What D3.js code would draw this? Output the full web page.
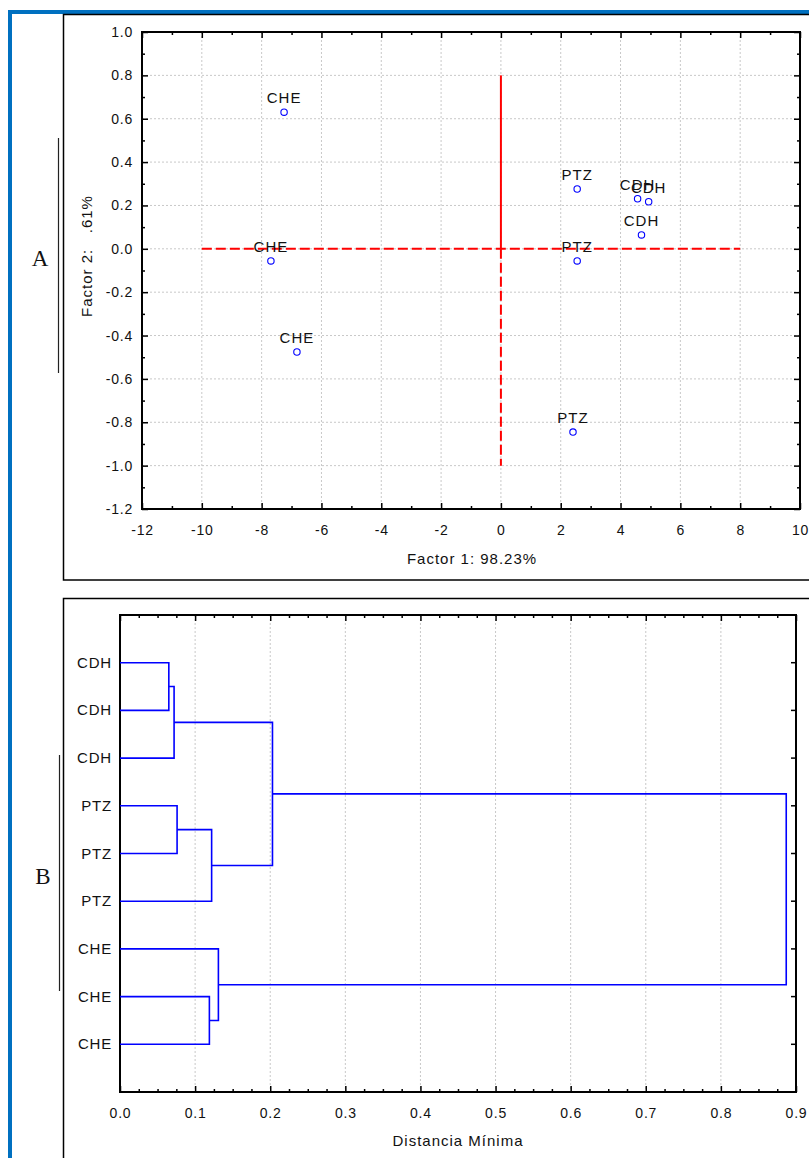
<!DOCTYPE html>
<html>
<head>
<meta charset="utf-8">
<script src="https://cdn.jsdelivr.net/npm/d3@7"></script>
<style>
  body { margin: 0; background: #fff; }
  svg text { font-family: "Liberation Sans", Arial, sans-serif; fill: #111; }
</style>
</head>
<body>
<div id="chart"></div>
<script>
// PCA scores (panel A)
var pcaLabels = ["CHE", "CHE", "CHE", "PTZ", "PTZ", "PTZ", "CDH", "CDH", "CDH"];
var factor1 = [-7.25, -7.69, -6.82, 2.55, 2.55, 2.41, 4.57, 4.94, 4.70];
var factor2 = [0.63, -0.056, -0.476, 0.276, -0.056, -0.845, 0.231, 0.217, 0.064];
var xTicksA = [-12, -10, -8, -6, -4, -2, 0, 2, 4, 6, 8, 10];
var yTicksA = [-1.2, -1.0, -0.8, -0.6, -0.4, -0.2, 0.0, 0.2, 0.4, 0.6, 0.8, 1.0];

// dendrogram (panel B): leaves top to bottom, then merges [childA, childB, distance]
var leafLabels = ["CDH", "CDH", "CDH", "PTZ", "PTZ", "PTZ", "CHE", "CHE", "CHE"];
var merges = [
    [0, 1, 0.065],
    [9, 2, 0.072],
    [3, 4, 0.076],
    [11, 5, 0.122],
    [10, 12, 0.203],
    [7, 8, 0.119],
    [6, 14, 0.131],
    [13, 15, 0.887]
];
var xTicksB = [0.0, 0.1, 0.2, 0.3, 0.4, 0.5, 0.6, 0.7, 0.8, 0.9];

// plain hyphen minus, like the original software
var locale = d3.formatLocale({ decimal: ".", thousands: ",", grouping: [3], currency: ["", ""], minus: "-" });

var svg = d3.select('#chart').append('svg').attr("width", 809).attr("height", 1158);

// blue page border and panel frames
svg.append("rect").attr("x", 8).attr("y", 10).attr("width", 4).attr("height", 1148).style("fill", "#0070C0");
svg.append("rect").attr("x", 8).attr("y", 10).attr("width", 801).attr("height", 4).style("fill", "#0070C0");
svg.append("rect").attr("x", 63.5).attr("y", 14.5).attr("width", 760).attr("height", 565.5)
    .style("fill", "none").style("stroke", "#000").style("stroke-width", 1.5);
svg.append("rect").attr("x", 63.5).attr("y", 598.5).attr("width", 760).attr("height", 600)
    .style("fill", "none").style("stroke", "#000").style("stroke-width", 1.5);

// side labels A / B
svg.append("line").attr("x1", 58.5).attr("x2", 58.5).attr("y1", 138).attr("y2", 373).style("stroke", "#222").style("stroke-width", 1.2);
svg.append("text").attr("x", 40).attr("y", 266).attr("text-anchor", "middle")
    .style("font-family", "'Liberation Serif', 'Times New Roman', serif").style("font-size", "23px").text("A");
svg.append("line").attr("x1", 59.5).attr("x2", 59.5).attr("y1", 755).attr("y2", 991).style("stroke", "#222").style("stroke-width", 1.2);
svg.append("text").attr("x", 43).attr("y", 884).attr("text-anchor", "middle")
    .style("font-family", "'Liberation Serif', 'Times New Roman', serif").style("font-size", "23px").text("B");

// ---------- panel A: scatter ----------
var ax = d3.scaleLinear().domain([-12, 10]).range([142, 800]);
var ay = d3.scaleLinear().domain([-1.2, 1.0]).range([509, 32]);

var gA = svg.append("g");

// grid
gA.selectAll(".gx").data(xTicksA.slice(1, -1)).enter().append("line")
    .attr("x1", function (d) { return ax(d); }).attr("x2", function (d) { return ax(d); })
    .attr("y1", ay(1.0)).attr("y2", ay(-1.2))
    .style("stroke", "#c8c8c8").style("stroke-dasharray", "2,2");
gA.selectAll(".gy").data(yTicksA.slice(1, -1)).enter().append("line")
    .attr("x1", ax(-12)).attr("x2", ax(10))
    .attr("y1", function (d) { return ay(d); }).attr("y2", function (d) { return ay(d); })
    .style("stroke", "#c8c8c8").style("stroke-dasharray", "2,2");

// axes with inward ticks
function inwardAxes(g, xs, ys, xMajor, xMinor, yMajor, yMinor, xFmt, yFmt) {
    var x0 = xs.range()[0], x1 = xs.range()[1], y0 = ys.range()[0], y1 = ys.range()[1];
    g.append("g").attr("transform", "translate(0," + y0 + ")")
        .call(d3.axisBottom(xs).tickValues(xMinor).tickSize(-3).tickFormat(""));
    g.append("g").attr("transform", "translate(0," + y0 + ")")
        .call(d3.axisBottom(xs).tickValues(xMajor).tickSizeInner(-6).tickSizeOuter(0).tickPadding(16).tickFormat(xFmt));
    g.append("g").attr("transform", "translate(0," + y1 + ")")
        .call(d3.axisTop(xs).tickValues(xMinor).tickSize(-3).tickFormat(""));
    g.append("g").attr("transform", "translate(0," + y1 + ")")
        .call(d3.axisTop(xs).tickValues(xMajor).tickSize(-6).tickFormat(""));
    if (yMajor) {
        g.append("g").attr("transform", "translate(" + x0 + ",0)")
            .call(d3.axisLeft(ys).tickValues(yMinor).tickSize(-3).tickFormat(""));
        g.append("g").attr("transform", "translate(" + x0 + ",0)")
            .call(d3.axisLeft(ys).tickValues(yMajor).tickSizeInner(-6).tickSizeOuter(0).tickPadding(9).tickFormat(yFmt));
    }
    g.selectAll(".domain").remove();
    g.selectAll(".tick line").style("stroke", "#000").style("stroke-width", 1.5);
    g.selectAll(".tick text").style("font-size", "14px").style("fill", "#111")
        .style("letter-spacing", "0.8px")
        .style("font-family", "'Liberation Sans', Arial, sans-serif");
    g.append("rect").attr("x", x0).attr("y", y1).attr("width", x1 - x0).attr("height", y0 - y1)
        .style("fill", "none").style("stroke", "#000").style("stroke-width", 2);
}

var xMinorA = d3.range(-12, 10.01, 1).filter(function (v) { return v % 2 !== 0; });
var yMinorA = d3.range(-11, 10, 2).map(function (v) { return v / 10; });
inwardAxes(gA, ax, ay, xTicksA, xMinorA, yTicksA, yMinorA, locale.format("d"), locale.format(".1f"));

// right side ticks of panel A
gA.append("g").attr("transform", "translate(" + ax(10) + ",0)")
    .call(d3.axisRight(ay).tickValues(yTicksA).tickSize(-6).tickFormat(""))
    .call(function (g) { g.select(".domain").remove(); g.selectAll("line").style("stroke", "#000").style("stroke-width", 1.5); });
gA.append("g").attr("transform", "translate(" + ax(10) + ",0)")
    .call(d3.axisRight(ay).tickValues(yMinorA).tickSize(-3).tickFormat(""))
    .call(function (g) { g.select(".domain").remove(); g.selectAll("line").style("stroke", "#000").style("stroke-width", 1.5); });

// red reference lines
gA.append("line").attr("x1", ax(-10)).attr("x2", ax(8)).attr("y1", ay(0)).attr("y2", ay(0))
    .style("stroke", "#ff0000").style("stroke-width", 2).style("stroke-dasharray", "10,4");
gA.append("line").attr("x1", ax(0)).attr("x2", ax(0)).attr("y1", ay(0.8)).attr("y2", ay(0))
    .style("stroke", "#ff0000").style("stroke-width", 2);
gA.append("line").attr("x1", ax(0)).attr("x2", ax(0)).attr("y1", ay(0)).attr("y2", ay(-1.0))
    .style("stroke", "#ff0000").style("stroke-width", 2).style("stroke-dasharray", "10,4");

// points and labels
var pts = pcaLabels.map(function (l, i) { return { label: l, f1: factor1[i], f2: factor2[i] }; });
gA.selectAll("circle").data(pts).enter().append("circle")
    .attr("cx", function (d) { return ax(d.f1); })
    .attr("cy", function (d) { return ay(d.f2); })
    .attr("r", 3.2)
    .style("fill", "#fff").style("stroke", "#0000ff").style("stroke-width", 1.1);
gA.selectAll(".plabel").data(pts).enter().append("text")
    .attr("x", function (d) { return ax(d.f1); })
    .attr("y", function (d) { return ay(d.f2) - 9; })
    .attr("text-anchor", "middle")
    .style("font-size", "15px").style("letter-spacing", "1px")
    .text(function (d) { return d.label; });

// axis titles
svg.append("text").attr("x", 472).attr("y", 564).attr("text-anchor", "middle")
    .style("font-size", "15px").style("letter-spacing", "1px").text("Factor 1: 98.23%");
svg.append("text").attr("transform", "translate(92,256) rotate(-90)").attr("text-anchor", "middle")
    .style("font-size", "15px").style("letter-spacing", "1px").style("white-space", "pre")
    .attr("xml:space", "preserve").text("Factor 2:   .61%");

// ---------- panel B: dendrogram ----------
var bx = d3.scaleLinear().domain([0, 0.9]).range([120, 796]);
var by = d3.scaleLinear().domain([0, 10]).range([1092, 615]);
var rowY = function (i) { return by(10 - (i + 1)); };

var gB = svg.append("g");
gB.selectAll(".gx").data(xTicksB.slice(1, -1)).enter().append("line")
    .attr("x1", function (d) { return bx(d); }).attr("x2", function (d) { return bx(d); })
    .attr("y1", 615).attr("y2", 1092)
    .style("stroke", "#c8c8c8").style("stroke-dasharray", "2,2");

var xMinorB = d3.range(0, 36).map(function (v) { return v * 0.025; }).filter(function (v, i) { return i % 4 !== 0; });
inwardAxes(gB, bx, by, xTicksB, xMinorB, null, null, locale.format(".1f"), null);

// leaf ticks on the right side
var leafRows = leafLabels.map(function (l, i) { return i; });
gB.selectAll(".rt").data(leafRows).enter().append("line")
    .attr("x1", bx(0.9) - 5).attr("x2", bx(0.9))
    .attr("y1", function (i) { return rowY(i); }).attr("y2", function (i) { return rowY(i); })
    .style("stroke", "#000").style("stroke-width", 1.5);
gB.selectAll(".ll").data(leafLabels).enter().append("text")
    .attr("x", 112)
    .attr("y", function (d, i) { return rowY(i) + 5; })
    .attr("text-anchor", "end")
    .style("font-size", "15px").style("letter-spacing", "0.8px")
    .text(function (d) { return d; });

// node positions: leaves at height 0, merges at midpoint of children
var nodes = leafLabels.map(function (l, i) { return { h: 0, y: rowY(i) }; });
merges.forEach(function (m) {
    var a = nodes[m[0]], b = nodes[m[1]];
    nodes.push({ h: m[2], y: (a.y + b.y) / 2 });
    gB.append("path")
        .attr("d", "M" + bx(a.h) + "," + a.y + "H" + bx(m[2]) + "V" + b.y + "H" + bx(b.h))
        .style("fill", "none").style("stroke", "#0000ff").style("stroke-width", 1.6);
});

svg.append("text").attr("x", 458).attr("y", 1146).attr("text-anchor", "middle")
    .style("font-size", "15px").style("letter-spacing", "1px").text("Distancia Mínima");
</script>
</body>
</html>
